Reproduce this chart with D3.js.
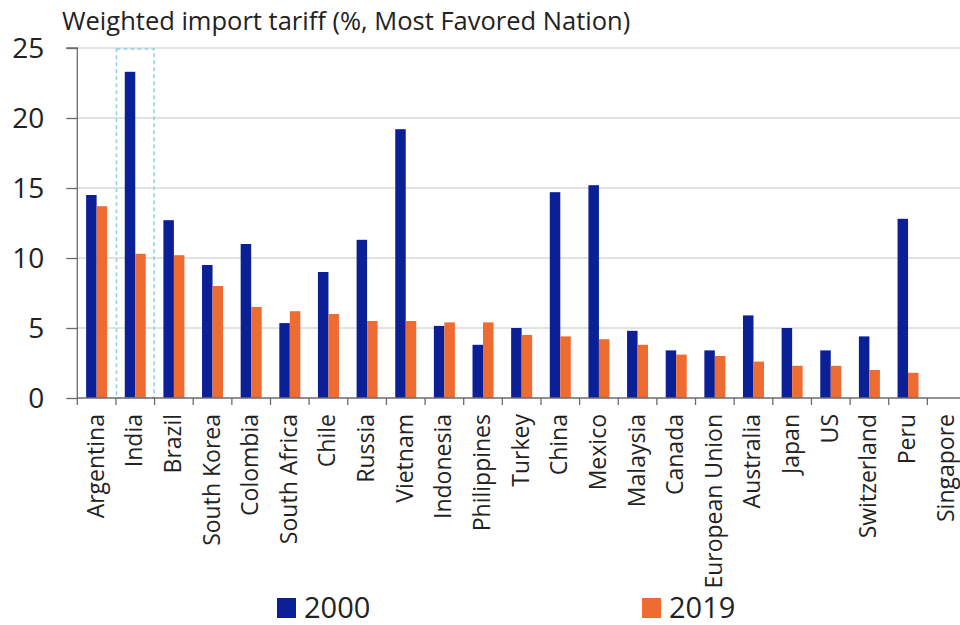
<!DOCTYPE html>
<html><head><meta charset="utf-8">
<script src="https://cdn.jsdelivr.net/npm/d3@7"></script>
<style>body{margin:0;background:#fff}svg{display:block}</style>
</head><body><svg id="c" width="960" height="625"></svg>
<script>
const categories = ["Argentina","India","Brazil","South Korea","Colombia","South Africa","Chile","Russia","Vietnam","Indonesia","Philippines","Turkey","China","Mexico","Malaysia","Canada","European Union","Australia","Japan","US","Switzerland","Peru","Singapore"];
const values2000 = [14.5,23.3,12.7,9.5,11.0,5.35,9.0,11.3,19.2,5.15,3.8,5.0,14.7,15.2,4.8,3.4,3.4,5.9,5.0,3.4,4.4,12.8,0];
const values2019 = [13.7,10.3,10.2,8.0,6.5,6.2,6.0,5.5,5.5,5.4,5.4,4.5,4.4,4.2,3.8,3.1,3.0,2.6,2.3,2.3,2.0,1.8,0];
const seriesNames = ["2000","2019"];
const yTicks = [0,5,10,15,20,25];
const highlighted = "India";
const titleText = "Weighted import tariff (%, Most Favored Nation)";

const colors = {"2000":"#0b2096","2019":"#ee6b31"};
const font = "'Open Sans','Noto Sans',sans-serif";
const svg = d3.select("#c");
const x0 = 77.3, x1 = 966, yTop = 48, yBot = 398;
const x = d3.scaleBand().domain(categories).range([x0, x1]).paddingInner(0).paddingOuter(0);
const y = d3.scaleLinear().domain([0,25]).range([yBot, yTop]);
const groupW = 21;
const xs = d3.scaleBand().domain(seriesNames).range([0, groupW]);

// gridlines
svg.append("g").selectAll("line").data(yTicks.filter(d=>d>0)).join("line")
  .attr("x1", x0).attr("x2", x1).attr("y1", d=>y(d)).attr("y2", d=>y(d))
  .attr("stroke", "#d9d9d9").attr("stroke-width", 1.3);

// bars
const data = categories.map((c,i)=>({c, v:[values2000[i], values2019[i]]}));
const g = svg.append("g");
g.selectAll("g").data(data).join("g")
  .attr("transform", d=>`translate(${x(d.c)+x.bandwidth()/2-groupW/2},0)`)
  .selectAll("rect").data(d=>seriesNames.map((s,j)=>({s, v:d.v[j]}))).join("rect")
  .attr("x", d=>xs(d.s)).attr("width", xs.bandwidth())
  .attr("y", d=>y(d.v)).attr("height", d=>yBot - y(d.v))
  .attr("fill", d=>colors[d.s]);

// highlight box
svg.append("rect")
  .attr("x", x(highlighted)+0.5).attr("y", y(25)+1)
  .attr("width", x.bandwidth()-1).attr("height", yBot - y(25) - 1)
  .attr("fill", "none").attr("stroke", "#93d2e3").attr("stroke-width", 1.6)
  .attr("stroke-dasharray", "4,3");

// y axis
const yAxis = d3.axisLeft(y).tickValues(yTicks).tickSize(11).tickPadding(22);
const ya = svg.append("g").attr("transform", `translate(${x0},0)`).call(yAxis);
ya.select(".domain").attr("stroke", "#6b6b6b").attr("stroke-width", 1.3).attr("d", `M-11,${yTop}H0V${yBot}`);
ya.selectAll(".tick line").attr("stroke", "#6b6b6b").attr("stroke-width", 1.3);
ya.selectAll(".tick text").attr("font-family", font).attr("font-size", 28).attr("fill", "#222").attr("dy", "0.34em");

// x axis line and ticks at band boundaries
svg.append("line").attr("x1", x0).attr("x2", x1).attr("y1", yBot).attr("y2", yBot)
  .attr("stroke", "#6b6b6b").attr("stroke-width", 1.3);
svg.append("g").selectAll("line").data(categories).join("line")
  .attr("x1", d=>x(d)).attr("x2", d=>x(d)).attr("y1", yBot).attr("y2", yBot+7)
  .attr("stroke", "#6b6b6b").attr("stroke-width", 1.3);

// x labels
svg.append("g").selectAll("text").data(categories).join("text")
  .attr("transform", d=>`translate(${x(d)+x.bandwidth()/2+7},414) rotate(-90)`)
  .attr("text-anchor", "end").attr("font-family", font).attr("font-size", 23).attr("fill", "#222")
  .text(d=>d);

// title
svg.append("text").attr("x", 62).attr("y", 30).attr("font-family", font).attr("font-size", 25.5)
  .attr("fill", "#222").text(titleText);

// legend
const legendX = {"2000":277, "2019":642};
const lg = svg.append("g").selectAll("g").data(seriesNames).join("g")
  .attr("transform", d=>`translate(${legendX[d]},0)`);
lg.append("rect").attr("x",0).attr("y",598).attr("width",19).attr("height",20).attr("fill", d=>colors[d]);
lg.append("text").attr("x",27).attr("y",618).attr("font-family", font).attr("font-size", 29).attr("fill","#222").text(d=>d);
</script></body></html>
